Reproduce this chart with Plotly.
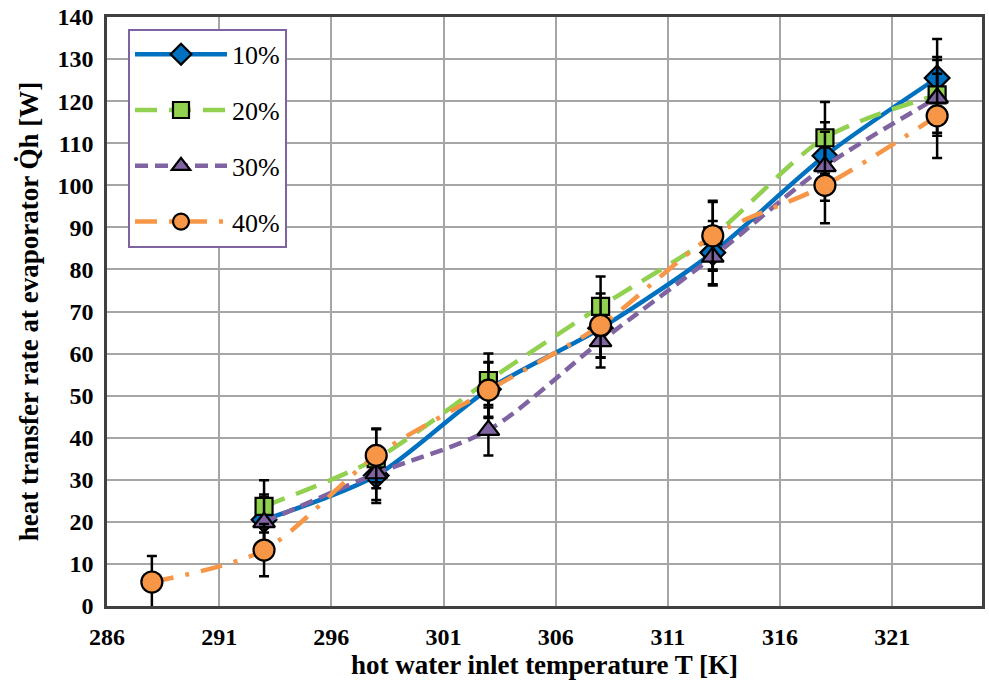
import plotly.graph_objects as go

# hot water inlet temperature [K]
temps = [293, 298, 303, 308, 313, 318, 323]
temps_40 = [288, 293, 298, 303, 308, 313, 318, 323]

# heat transfer rate at evaporator [W]
q_10 = [20.5, 31.0, 51.5, 66.0, 84.0, 107.0, 125.5]
q_20 = [23.7, 35.0, 53.6, 71.2, 88.0, 111.3, 121.5]
q_30 = [19.9, 31.5, 41.8, 62.9, 83.0, 104.5, 120.8]
q_40 = [5.7, 13.3, 35.8, 51.3, 66.7, 88.0, 100.0, 116.5]

# measurement uncertainty [W]
err_10 = [6.0, 6.5, 6.5, 7.0, 7.5, 8.0, 9.3]
err_20 = [6.2, 7.0, 6.4, 7.1, 8.0, 8.5, 9.0]
err_30 = [6.0, 6.3, 6.0, 6.2, 6.8, 8.2, 9.0]
err_40 = [6.2, 6.2, 6.4, 6.6, 7.6, 8.3, 9.0, 10.0]

labels = ["10%", "20%", "30%", "40%"]

serif = "Liberation Serif"

series = [
    dict(name=labels[0], x=temps, y=q_10, err=err_10, color="#0070C0",
         dash="solid", symbol="diamond", size=19),
    dict(name=labels[1], x=temps, y=q_20, err=err_20, color="#92D050",
         dash="22px,12px", symbol="square", size=17),
    dict(name=labels[2], x=temps, y=q_30, err=err_30, color="#8064A2",
         dash="13px,7px", symbol="triangle-up", size=19),
    dict(name=labels[3], x=temps_40, y=q_40, err=err_40, color="#F79646",
         dash="22px,12px,4px,12px", symbol="circle", size=21),
]

fig = go.Figure()
for i, s in enumerate(series):
    fig.add_trace(go.Scatter(
        x=s["x"], y=s["y"], name=s["name"], legendgroup=s["name"],
        mode="lines+markers",
        line=dict(color=s["color"], width=4.5, dash=s["dash"],
                  shape="spline", smoothing=0.8),
        marker=dict(symbol=s["symbol"], size=s["size"], color=s["color"],
                    line=dict(color="black", width=2.2)),
        error_y=dict(type="data", array=s["err"], visible=True,
                     color="black", thickness=2.5, width=5),
        cliponaxis=False,
    ))

grid = "#A6A6A6"
tick_font = dict(family=serif, size=24, color="black", weight="bold")
title_font = dict(family=serif, size=27, color="black", weight="bold")

fig.update_layout(
    width=989, height=683,
    margin=dict(l=107, r=4, t=16, b=77),
    paper_bgcolor="white", plot_bgcolor="white",
    font=dict(family=serif, color="black"),
    legend=dict(
        x=0.024, y=0.98, xanchor="left", yanchor="top",
        bgcolor="white", bordercolor="#7F63A1", borderwidth=2,
        font=dict(family=serif, size=26, color="black"),
        tracegroupgap=19, itemwidth=92,
        itemsizing="trace",
    ),
    xaxis=dict(
        range=[286, 325], tick0=286, dtick=5,
        showgrid=True, gridcolor=grid, gridwidth=1.5,
        showline=True, linecolor="#404040", linewidth=2.5, mirror=True,
        ticks="", ticklabelstandoff=7, zeroline=False,
        tickfont=tick_font,
        title=dict(text="hot water inlet temperature T [K]", standoff=7,
                   font=title_font),
    ),
    yaxis=dict(
        range=[0, 140], tick0=0, dtick=10,
        showgrid=True, gridcolor=grid, gridwidth=1.5,
        showline=True, linecolor="#404040", linewidth=2.5, mirror=True,
        ticks="", ticklabelstandoff=6, zeroline=False,
        tickfont=tick_font,
        title=dict(text="heat transfer rate at evaporator Q\u0307h [W]", standoff=12,
                   font=title_font),
    ),
)

fig.write_html("out.html")
